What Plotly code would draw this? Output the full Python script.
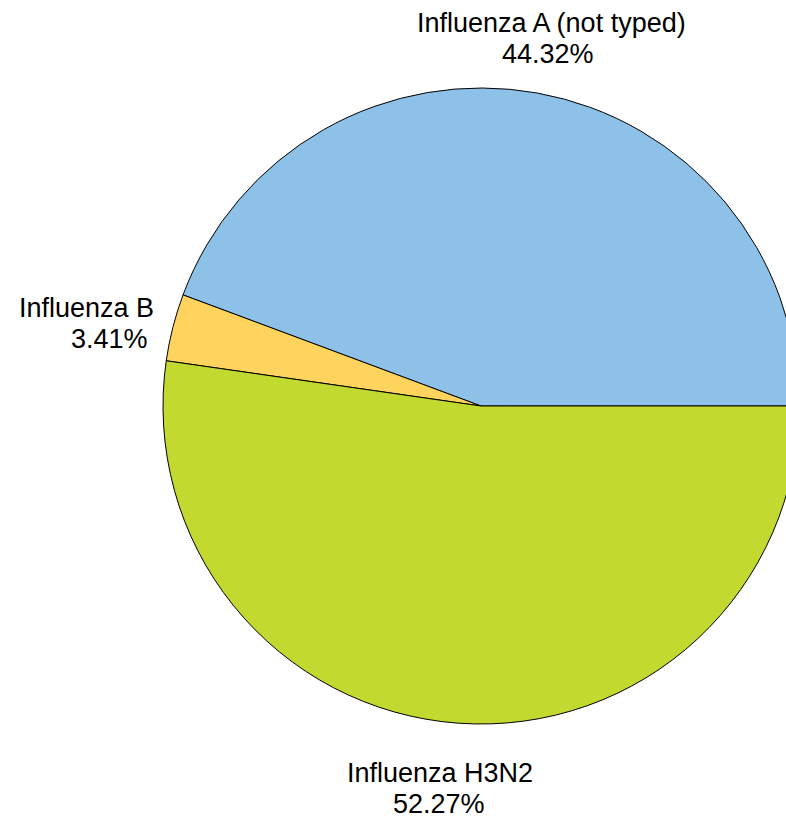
import plotly.graph_objects as go

labels = ["Influenza A (not typed)", "Influenza B", "Influenza H3N2"]
values = [39, 3, 46]
colors = ["#8DC1E8", "#FFD45E", "#C2D930"]

FONT = "Liberation Sans, Arial, sans-serif"
FSIZE = 27

W, H = 800, 819
ML, MR, MT, MB = 163, 1, 88, 95
PW, PH = W - ML - MR, H - MT - MB

total = sum(values)
pct_text = [f"{v / total * 100:.2f}%" for v in values]

# label placement (pixel positions of each text line: x, xanchor, baseline y)
label_layout = [
    [(551, "center", 32.3), (548, "center", 63.0)],
    [(156, "right", 317.3), (150, "right", 348.3)],
    [(440, "center", 782.3), (439, "center", 813.3)],
]


def px_x(x):
    return (x - ML) / PW


def px_y(y):
    return 1 - (y - MT) / PH


fig = go.Figure(
    go.Pie(
        labels=labels,
        values=values,
        sort=False,
        direction="counterclockwise",
        rotation=-69.55,
        marker=dict(colors=colors, line=dict(color="black", width=1)),
        textinfo="none",
        showlegend=False,
        hovertemplate="%{label}<br>%{percent:.2%}<extra></extra>",
    )
)

annotations = []
for lab, pt, lay in zip(labels, pct_text, label_layout):
    for txt, (x, xa, base) in zip([lab, pt], lay):
        annotations.append(
            dict(
                text=txt,
                x=px_x(x),
                y=px_y(base - 26),
                xref="paper",
                yref="paper",
                xanchor=xa,
                yanchor="top",
                showarrow=False,
                font=dict(family=FONT, size=FSIZE, color="black"),
            )
        )

fig.update_layout(
    width=W,
    height=H,
    margin=dict(l=ML, r=MR, t=MT, b=MB),
    paper_bgcolor="white",
    plot_bgcolor="white",
    font=dict(family=FONT, size=FSIZE, color="black"),
    annotations=annotations,
)

fig.write_html(
    "out.html",
    config={"displayModeBar": False},
    post_script="document.body.style.margin='0';document.body.style.overflow='hidden';",
)
